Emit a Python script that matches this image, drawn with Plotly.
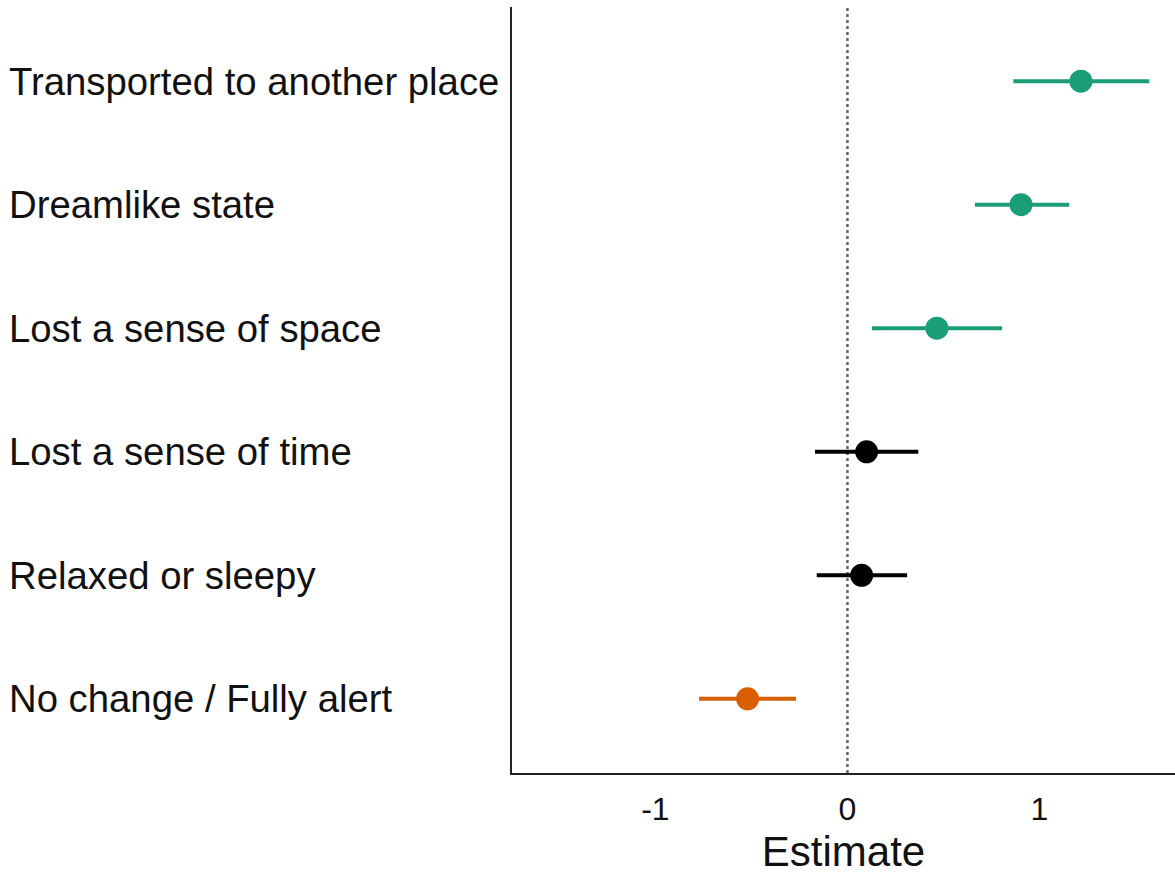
import plotly.graph_objects as go

# Coefficient estimates with 95% intervals for each reported experience
labels = [
    "Transported to another place",
    "Dreamlike state",
    "Lost a sense of space",
    "Lost a sense of time",
    "Relaxed or sleepy",
    "No change / Fully alert",
]
estimate = [1.216, 0.904, 0.466, 0.100, 0.074, -0.520]
lower = [0.864, 0.664, 0.128, -0.169, -0.160, -0.773]
upper = [1.572, 1.155, 0.805, 0.369, 0.311, -0.268]
direction = ["pos", "pos", "pos", "ns", "ns", "neg"]

colors = {"pos": "#1B9E77", "ns": "#000000", "neg": "#D95F02"}
ypos = list(range(len(labels), 0, -1))

fig = go.Figure()
for lab, est, lo, hi, d, y in zip(labels, estimate, lower, upper, direction, ypos):
    c = colors[d]
    fig.add_trace(go.Scatter(
        x=[est], y=[y], mode="markers", name=lab,
        marker=dict(color=c, size=23, line=dict(width=0)),
        error_x=dict(type="data", symmetric=False,
                     array=[hi - est], arrayminus=[est - lo],
                     color=c, thickness=4, width=0),
        showlegend=False,
    ))

# zero reference line
fig.add_shape(type="line", xref="x", yref="paper", x0=0, x1=0, y0=0, y1=1,
              line=dict(color="#666666", width=2.5, dash="3px,3px"), layer="below")

# left-aligned row labels
for lab, y in zip(labels, ypos):
    fig.add_annotation(text=lab, xref="paper", yref="y", x=0, y=y,
                       xanchor="left", yanchor="middle", xshift=-505,
                       showarrow=False,
                       font=dict(family="Liberation Sans, Arial", size=38.3, color="#111111"))

fig.update_layout(
    width=1175, height=875,
    margin=dict(l=512, r=0, t=7, b=102),
    paper_bgcolor="white", plot_bgcolor="white",
    font=dict(family="Liberation Sans, Arial", color="#111111"),
    xaxis=dict(
        range=[-1.747, 1.706], tickvals=[-1, 0, 1], ticktext=["-1", "0", "1"],
        showgrid=False, zeroline=False, ticks="",
        showline=True, linecolor="#222222", linewidth=2,
        tickfont=dict(size=32), ticklabelstandoff=7,
        title=dict(text="Estimate", font=dict(size=42), standoff=10),
    ),
    yaxis=dict(
        range=[0.4, 6.6], showgrid=False, zeroline=False, ticks="",
        showticklabels=False, showline=True, linecolor="#222222", linewidth=2,
    ),
)

fig.write_html("out.html")
